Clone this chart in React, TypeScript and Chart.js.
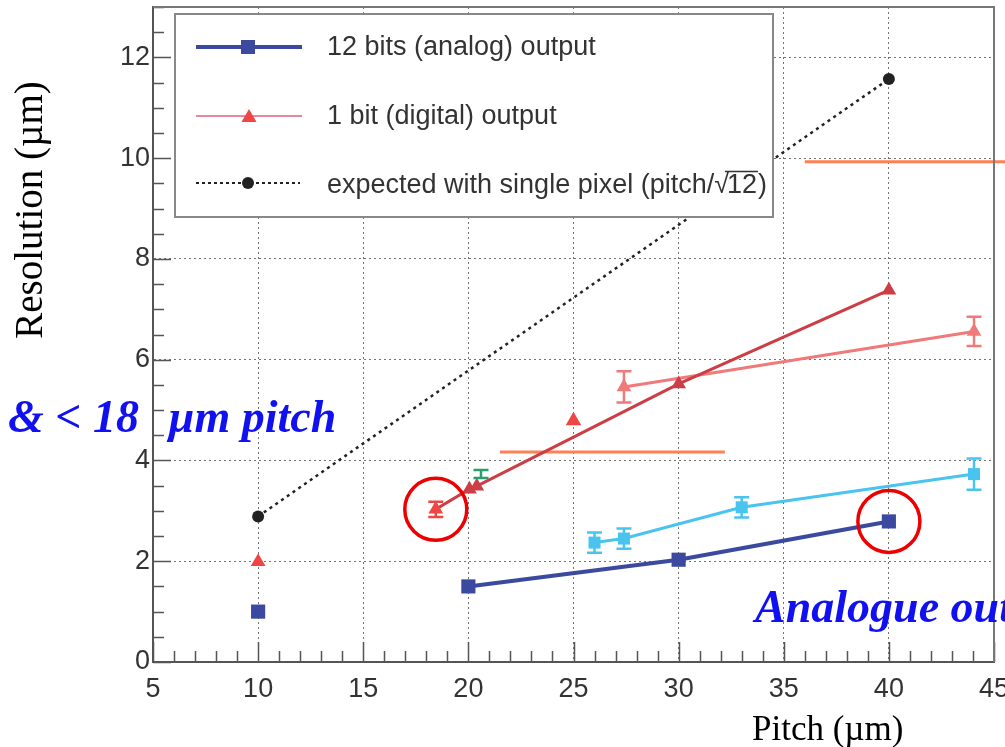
import React, { useEffect, useRef } from 'react';
import { Chart, registerables } from 'chart.js';

Chart.register(...registerables);

// ---------- data ----------
const xTickValues = [5, 10, 15, 20, 25, 30, 35, 40, 45];
const yTickValues = [0, 2, 4, 6, 8, 10, 12];

const analogPitch = [20, 30, 40];
const analogRes = [1.5, 2.03, 2.79];
const analogIsoPitch = [10];
const analogIsoRes = [1.0];

const digitalPitch = [18.45, 20.05, 20.4, 30, 40];
const digitalRes = [3.03, 3.43, 3.49, 5.52, 7.38];
const digitalErr = [0.15, 0, 0, 0, 0];
const digitalIsoPitch = [10];
const digitalIsoRes = [1.99];
const digitalLoosePitch = [25];
const digitalLooseRes = [4.79];
const digitalBPitch = [27.4, 44.05];
const digitalBRes = [5.46, 6.56];
const digitalBErr = [0.31, 0.29];

const pixelPitch = [26.0, 27.4, 33.0, 44.05];
const pixelRes = [2.37, 2.45, 3.07, 3.73];
const pixelErr = [0.2, 0.2, 0.2, 0.31];

const greenPitch = [20.6];
const greenRes = [3.73];
const greenErr = [0.08];

const expectedPitch = [10, 40];
const expectedRes = [2.89, 11.57];

const mark1Pitch = [21.5, 32.2];
const mark1Res = [4.17, 4.17];
const mark2Pitch = [36.0, 46.0];
const mark2Res = [9.93, 9.93];

const circlePitch = [18.45, 40];
const circleRes = [3.03, 2.79];

const legendLabels = ['12 bits (analog) output', '1 bit (digital) output', 'expected with single pixel (pitch/'];
const xTitle = 'Pitch (\u00b5m)';
const yTitle = 'Resolution (\u00b5m)';
const note1a = '& < 18';
const note1b = '\u00b5m pitch';
const note2 = 'Analogue output';

// ---------- styles ----------
const BLUE = '#3b4a9f';
const DARKRED = '#cc3d44';
const RED = '#f04545';
const LIGHTRED = '#f07a7a';
const CYAN = '#48c4ee';
const GREEN = '#2a9d6c';
const BLACK = '#222222';
const ORANGE = '#ff8055';
const NOTE_BLUE = '#1010f0';

const pts = (xs: number[], ys: number[]) => xs.map((v, i) => ({ x: v, y: ys[i] }));

const overlay = {
  id: 'overlay',
  afterDatasetsDraw(chart: any) {
    const { ctx, chartArea: ca, scales } = chart;
    const x = scales.x;
    const y = scales.y;

    // error bars
    chart.data.datasets.forEach((ds: any) => {
      if (!ds.errors) return;
      ctx.save();
      ctx.strokeStyle = ds.errColor || ds.borderColor;
      ctx.lineWidth = 2.5;
      ds.data.forEach((p: any, i: number) => {
        const e = ds.errors[i];
        if (!e) return;
        const px = x.getPixelForValue(p.x);
        const y1 = y.getPixelForValue(p.y + e);
        const y2 = y.getPixelForValue(p.y - e);
        ctx.beginPath();
        ctx.moveTo(px, y1); ctx.lineTo(px, y2);
        ctx.moveTo(px - 7.5, y1); ctx.lineTo(px + 7.5, y1);
        ctx.moveTo(px - 7.5, y2); ctx.lineTo(px + 7.5, y2);
        ctx.stroke();
      });
      ctx.restore();
    });

    // inside ticks
    ctx.save();
    ctx.strokeStyle = '#555';
    ctx.lineWidth = 1.5;
    ctx.beginPath();
    for (let k = 0; k <= 26; k++) {
      const py = Math.round(y.getPixelForValue(k / 2)) + 0.5;
      const len = k % 4 === 0 ? 18 : 11;
      ctx.moveTo(ca.left, py); ctx.lineTo(ca.left + len, py);
    }
    for (let k = 5; k <= 45; k++) {
      const px = Math.round(x.getPixelForValue(k)) + 0.5;
      const len = k % 5 === 0 ? 20 : 11;
      ctx.moveTo(px, ca.bottom); ctx.lineTo(px, ca.bottom - len);
    }
    ctx.stroke();
    // frame top / right
    ctx.strokeStyle = '#777';
    ctx.lineWidth = 2;
    ctx.beginPath();
    ctx.moveTo(ca.left, ca.top); ctx.lineTo(ca.right, ca.top); ctx.lineTo(ca.right, ca.bottom);
    ctx.stroke();
    ctx.restore();

    // red circles
    ctx.save();
    ctx.strokeStyle = '#ee0000';
    ctx.lineWidth = 3.5;
    circlePitch.forEach((cx, i) => {
      ctx.beginPath();
      ctx.arc(x.getPixelForValue(cx), y.getPixelForValue(circleRes[i]), 31, 0, Math.PI * 2);
      ctx.stroke();
    });
    ctx.restore();

    // blue notes
    ctx.save();
    ctx.fillStyle = NOTE_BLUE;
    ctx.font = 'italic bold 46px "Liberation Serif"';
    ctx.textBaseline = 'alphabetic';
    ctx.fillText(note1a, 8, 432);
    ctx.fillText(note1b, 168, 432);
    ctx.fillText(note2, 755, 622);
    ctx.restore();

    // axis titles
    ctx.save();
    ctx.fillStyle = '#000';
    ctx.font = '35px "Liberation Serif"';
    ctx.textBaseline = 'alphabetic';
    ctx.fillText(xTitle, 752, 740);
    ctx.font = '39px "Liberation Serif"';
    ctx.translate(42, 210);
    ctx.rotate(-Math.PI / 2);
    ctx.textAlign = 'center';
    ctx.fillText(yTitle, 0, 0);
    ctx.restore();

    // legend
    ctx.save();
    ctx.fillStyle = '#fff';
    ctx.fillRect(175, 14, 598, 203);
    ctx.strokeStyle = '#888';
    ctx.lineWidth = 2;
    ctx.strokeRect(175, 14, 598, 203);

    // row 1
    ctx.strokeStyle = BLUE; ctx.lineWidth = 4;
    ctx.beginPath(); ctx.moveTo(196, 47); ctx.lineTo(302, 47); ctx.stroke();
    ctx.fillStyle = BLUE; ctx.fillRect(241, 40, 14, 14);
    // row 2
    ctx.strokeStyle = '#e0607f'; ctx.lineWidth = 1.5;
    ctx.beginPath(); ctx.moveTo(196, 116); ctx.lineTo(302, 116); ctx.stroke();
    ctx.fillStyle = RED;
    ctx.beginPath(); ctx.moveTo(249, 109); ctx.lineTo(256.5, 122); ctx.lineTo(241.5, 122); ctx.closePath(); ctx.fill();
    // row 3
    ctx.strokeStyle = BLACK; ctx.lineWidth = 2;
    ctx.setLineDash([3, 3]);
    ctx.beginPath(); ctx.moveTo(196, 183); ctx.lineTo(300, 183); ctx.stroke();
    ctx.setLineDash([]);
    ctx.fillStyle = BLACK;
    ctx.beginPath(); ctx.arc(248, 183, 6, 0, Math.PI * 2); ctx.fill();

    ctx.fillStyle = '#333';
    ctx.font = '27px "Liberation Sans"';
    ctx.textBaseline = 'alphabetic';
    ctx.fillText(legendLabels[0], 327, 55);
    ctx.fillText(legendLabels[1], 327, 124);
    ctx.fillText(legendLabels[2], 327, 193);
    let cx = 327 + ctx.measureText(legendLabels[2]).width;
    ctx.fillText('\u221a', cx, 193);
    cx += ctx.measureText('\u221a').width - 2;
    const w12 = ctx.measureText('12').width;
    ctx.fillText('12', cx, 193);
    ctx.strokeStyle = '#333'; ctx.lineWidth = 1.5;
    ctx.beginPath(); ctx.moveTo(cx - 2, 171.5); ctx.lineTo(cx + w12 + 1, 171.5); ctx.stroke();
    ctx.fillText(')', cx + w12 + 1, 193);
    ctx.restore();
  },
};

const zeroPad = (s: any) => {
  s.paddingLeft = 0;
  s.paddingRight = 0;
  s.paddingTop = 0;
  s.paddingBottom = 0;
};

export default function App() {
  const ref = useRef<HTMLCanvasElement>(null);
  useEffect(() => {
    const tickFont = { family: '"Liberation Sans"', size: 27 };
    const chart = new Chart(ref.current as HTMLCanvasElement, {
      type: 'scatter',
      data: {
        datasets: [
          {
            label: '12 bits (analog) output',
            data: pts(analogPitch, analogRes),
            showLine: true,
            borderColor: BLUE,
            borderWidth: 4,
            pointStyle: 'rect',
            pointRadius: 10,
            pointBackgroundColor: BLUE,
            pointBorderWidth: 0,
          },
          {
            label: 'analog single',
            data: pts(analogIsoPitch, analogIsoRes),
            borderColor: BLUE,
            pointStyle: 'rect',
            pointRadius: 10,
            pointBackgroundColor: BLUE,
            pointBorderWidth: 0,
          },
          {
            label: '1 bit (digital) output',
            data: pts(digitalPitch, digitalRes),
            errors: digitalErr,
            errColor: RED,
            showLine: true,
            borderColor: DARKRED,
            borderWidth: 3,
            pointStyle: 'triangle',
            pointRadius: 8.5,
            pointBackgroundColor: [RED, DARKRED, DARKRED, DARKRED, DARKRED],
            pointBorderWidth: 0,
          } as any,
          {
            label: 'digital single',
            data: pts(digitalIsoPitch, digitalIsoRes),
            borderColor: RED,
            pointStyle: 'triangle',
            pointRadius: 8.5,
            pointBackgroundColor: RED,
            pointBorderWidth: 0,
          },
          {
            label: 'digital loose',
            data: pts(digitalLoosePitch, digitalLooseRes),
            borderColor: RED,
            pointStyle: 'triangle',
            pointRadius: 9,
            pointBackgroundColor: RED,
            pointBorderWidth: 0,
          },
          {
            label: 'digital B',
            data: pts(digitalBPitch, digitalBRes),
            errors: digitalBErr,
            showLine: true,
            borderColor: LIGHTRED,
            borderWidth: 3,
            pointStyle: 'triangle',
            pointRadius: 8.5,
            pointBackgroundColor: LIGHTRED,
            pointBorderWidth: 0,
          } as any,
          {
            label: 'pixel',
            data: pts(pixelPitch, pixelRes),
            errors: pixelErr,
            showLine: true,
            borderColor: CYAN,
            borderWidth: 3,
            pointStyle: 'rect',
            pointRadius: 8.5,
            pointBackgroundColor: CYAN,
            pointBorderWidth: 0,
          } as any,
          {
            label: 'green',
            data: pts(greenPitch, greenRes),
            errors: greenErr,
            borderColor: GREEN,
            pointRadius: 0,
          } as any,
          {
            label: 'expected with single pixel',
            data: pts(expectedPitch, expectedRes),
            showLine: true,
            borderColor: BLACK,
            borderWidth: 2.5,
            borderDash: [3, 4],
            pointStyle: 'circle',
            pointRadius: 6,
            pointBackgroundColor: BLACK,
            pointBorderWidth: 0,
          },
          {
            label: 'mark1',
            data: pts(mark1Pitch, mark1Res),
            showLine: true,
            borderColor: ORANGE,
            borderWidth: 3,
            pointRadius: 0,
          },
          {
            label: 'mark2',
            data: pts(mark2Pitch, mark2Res),
            showLine: true,
            borderColor: ORANGE,
            borderWidth: 3,
            pointRadius: 0,
            clip: false,
          } as any,
        ],
      },
      options: {
        animation: false,
        responsive: false,
        devicePixelRatio: 1,
        events: [],
        layout: { padding: { left: 0, top: 7, right: 11, bottom: 0 }, autoPadding: false } as any,
        plugins: { legend: { display: false }, tooltip: { enabled: false } },
        elements: { line: { tension: 0 } },
        scales: {
          x: {
            type: 'linear',
            min: 5,
            max: 45,
            afterBuildTicks: (s: any) => { s.ticks = xTickValues.map((v) => ({ value: v })); },
            afterFit: (s: any) => { s.height = 85; zeroPad(s); },
            ticks: { autoSkip: false, maxRotation: 0, font: tickFont, color: '#333', padding: 11 },
            grid: { color: 'rgba(0,0,0,0.55)', lineWidth: 1, drawTicks: false },
            border: { display: true, color: '#555', width: 2, dash: [2, 3] },
          },
          y: {
            type: 'linear',
            min: 0,
            max: 13,
            afterBuildTicks: (s: any) => { s.ticks = yTickValues.map((v) => ({ value: v })); },
            afterFit: (s: any) => { s.width = 153; zeroPad(s); },
            ticks: { autoSkip: false, font: tickFont, color: '#333', padding: 3 },
            grid: { color: 'rgba(0,0,0,0.55)', lineWidth: 1, drawTicks: false },
            border: { display: true, color: '#555', width: 2, dash: [2, 3] },
          },
        },
      } as any,
      plugins: [overlay],
    });
    return () => chart.destroy();
  }, []);
  return (
    <div style={{ position: 'fixed', left: 0, top: 0, width: 1005, height: 747, background: '#fff' }}>
      <canvas ref={ref} width={1005} height={747} style={{ display: 'block', width: 1005, height: 747 }} />
    </div>
  );
}
